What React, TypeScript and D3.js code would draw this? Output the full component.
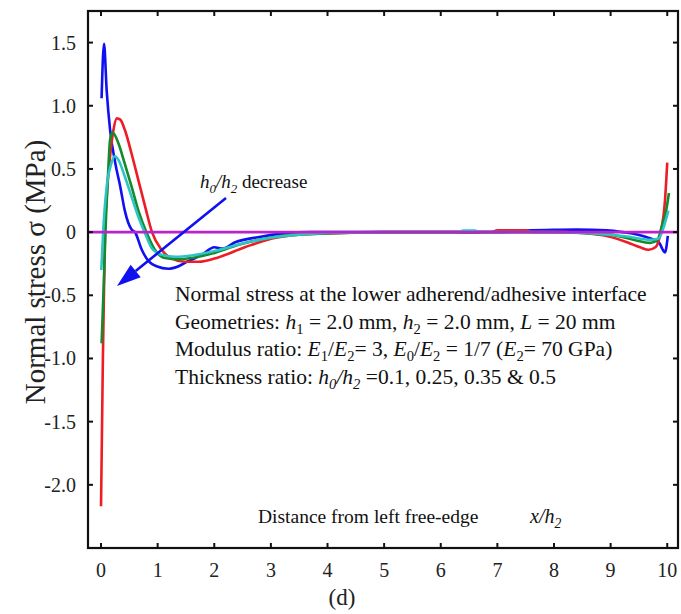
import React from "react";
import * as d3 from "d3";

const xTicks = [0, 1, 2, 3, 4, 5, 6, 7, 8, 9, 10];
const yTicks = [-2.0, -1.5, -1.0, -0.5, 0, 0.5, 1.0, 1.5];
const yTickLabels = ["-2.0", "-1.5", "-1.0", "-0.5", "0", "0.5", "1.0", "1.5"];

// h0/h2 = 0.5 (blue)
const blueX = [0.01, 0.053, 0.1, 0.16, 0.25, 0.34, 0.42, 0.54, 0.6, 0.72, 0.84, 0.98, 1.19, 1.37, 1.54, 1.78, 2.0, 2.15, 2.37, 2.77, 3.25, 3.7, 4.1, 5, 6, 7, 7.5, 8.0, 8.4, 8.93, 9.22, 9.64, 9.85, 9.96, 10.01];
const blueY = [1.06, 1.49, 1.12, 0.81, 0.55, 0.36, 0.17, 0.02, 0, -0.14, -0.23, -0.27, -0.29, -0.27, -0.23, -0.18, -0.12, -0.13, -0.08, -0.04, -0.01, 0, 0, 0, 0, 0, 0.012, 0.018, 0.02, 0.015, 0.0, -0.04, -0.08, -0.16, -0.03];

// h0/h2 = 0.1 (red)
const redX = [0.0, 0.03, 0.07, 0.1, 0.16, 0.22, 0.28, 0.34, 0.42, 0.54, 0.66, 0.78, 0.9, 1.07, 1.25, 1.48, 1.72, 2.07, 2.54, 3.02, 3.5, 4.0, 5, 6, 6.9, 7.0, 7.5, 7.6, 8.2, 8.87, 9.29, 9.52, 9.67, 9.79, 9.88, 9.96, 10.0];
const redY = [-2.17, -1.1, 0.02, 0.28, 0.6, 0.81, 0.9, 0.89, 0.81, 0.62, 0.41, 0.2, 0.0, -0.14, -0.21, -0.235, -0.235, -0.2, -0.12, -0.05, -0.02, -0.01, 0, 0, 0.0, 0.015, 0.015, 0.0, 0, -0.025, -0.08, -0.12, -0.14, -0.12, -0.01, 0.25, 0.55];

// h0/h2 = 0.25 (green)
const greenX = [0.01, 0.05, 0.08, 0.12, 0.16, 0.2, 0.31, 0.42, 0.54, 0.66, 0.8, 0.95, 1.13, 1.37, 1.6, 1.96, 2.43, 2.9, 3.4, 4.0, 5, 6, 7, 8, 8.99, 9.4, 9.7, 9.83, 9.9, 9.98, 10.03];
const greenY = [-0.88, -0.4, 0.02, 0.42, 0.73, 0.79, 0.7, 0.54, 0.36, 0.17, 0.0, -0.14, -0.205, -0.215, -0.205, -0.17, -0.1, -0.05, -0.02, -0.01, 0, 0, 0, 0, -0.02, -0.06, -0.085, -0.06, 0.04, 0.17, 0.31];

// h0/h2 = 0.35 (cyan)
const cyanX = [0.005, 0.04, 0.1, 0.18, 0.24, 0.31, 0.42, 0.54, 0.66, 0.77, 0.9, 1.07, 1.31, 1.6, 2.0, 2.5, 3.0, 3.5, 4.1, 5, 6, 6.3, 6.4, 6.6, 6.7, 8, 9.29, 9.7, 9.85, 9.93, 10.02];
const cyanY = [-0.3, 0.02, 0.36, 0.54, 0.6, 0.57, 0.44, 0.28, 0.12, 0.0, -0.13, -0.18, -0.195, -0.185, -0.15, -0.09, -0.045, -0.02, -0.005, 0, 0, 0, 0.012, 0.012, 0, 0, -0.035, -0.06, -0.05, 0.03, 0.17];

const series = [
  { name: "0.5", xs: blueX, ys: blueY, color: "#1010f0" },
  { name: "0.1", xs: redX, ys: redY, color: "#ee1c24" },
  { name: "0.25", xs: greenX, ys: greenY, color: "#148a2c" },
  { name: "0.35", xs: cyanX, ys: cyanY, color: "#2cc4c4" },
];

const FONT = "'Liberation Serif', 'Times New Roman', serif";

type Seg = { t: string; i?: boolean; sub?: boolean };

function Rich({ x, y, segs, size }: { x: number; y: number; segs: Seg[]; size: number }) {
  const out: React.ReactNode[] = [];
  let shifted = false;
  segs.forEach((s, k) => {
    let dy = 0;
    if (s.sub && !shifted) { dy = size * 0.25; shifted = true; }
    else if (!s.sub && shifted) { dy = -size * 0.25; shifted = false; }
    out.push(
      <tspan key={k} dy={dy || undefined} fontStyle={s.i ? "italic" : "normal"} fontSize={s.sub ? size * 0.68 : size}>
        {s.t}
      </tspan>
    );
  });
  return (
    <text x={x} y={y} fontFamily={FONT} fontSize={size} fill="#111" style={{ whiteSpace: "pre" }}>
      {out}
    </text>
  );
}

export default function App() {
  const W = 681, H = 614;
  const left = 88, right = 678, top = 11, bottom = 548;
  const x = d3.scaleLinear().domain([-0.23, 10.19]).range([left, right]);
  const y = d3.scaleLinear().domain([-2.5, 1.75]).range([bottom, top]);

  const line = d3
    .line<[number, number]>()
    .x((d) => x(d[0]))
    .y((d) => y(d[1]))
    .curve(d3.curveMonotoneX);

  const zeroLine = x.domain();
  const tl = 5;

  // arrow
  const ax1 = 226, ay1 = 198, ax2 = 117, ay2 = 286;
  const ang = Math.atan2(ay2 - ay1, ax2 - ax1);
  const hl = 24, hw = 8;
  const bx = ax2 - hl * Math.cos(ang), by = ay2 - hl * Math.sin(ang);
  const p1 = [bx + hw * Math.sin(ang), by - hw * Math.cos(ang)];
  const p2 = [bx - hw * Math.sin(ang), by + hw * Math.cos(ang)];

  const tsize = 21.5;
  const lsize = 20;

  return (
    <svg width={W} height={H} style={{ position: "absolute", left: 0, top: 0, background: "#fff" }}>
      <rect x={0} y={0} width={W} height={H} fill="#fff" />
      {series.map((s) => (
        <path
          key={s.name}
          d={line(s.xs.map((v, i) => [v, s.ys[i]] as [number, number])) || ""}
          fill="none"
          stroke={s.color}
          strokeWidth={2.6}
          strokeLinejoin="round"
        />
      ))}
      <line x1={x(zeroLine[0])} x2={x(zeroLine[1])} y1={y(0)} y2={y(0)} stroke="#bb22cc" strokeWidth={2.6} />

      {/* arrow */}
      <line x1={ax1} y1={ay1} x2={bx} y2={by} stroke="#1010f0" strokeWidth={2.6} />
      <polygon points={`${ax2},${ay2} ${p1[0]},${p1[1]} ${p2[0]},${p2[1]}`} fill="#1010f0" />

      {/* frame */}
      <rect x={left} y={top} width={right - left} height={bottom - top} fill="none" stroke="#111" strokeWidth={2.2} />
      {xTicks.map((t) => (
        <g key={"xt" + t}>
          <line x1={x(t)} x2={x(t)} y1={bottom} y2={bottom - tl} stroke="#111" strokeWidth={2} />
          <line x1={x(t)} x2={x(t)} y1={top} y2={top + tl} stroke="#111" strokeWidth={2} />
          <text x={x(t)} y={577} textAnchor="middle" fontFamily={FONT} fontSize={lsize} fill="#222">
            {t}
          </text>
        </g>
      ))}
      {yTicks.map((t, i) => (
        <g key={"yt" + t}>
          <line x1={left} x2={left + tl} y1={y(t)} y2={y(t)} stroke="#111" strokeWidth={2} />
          <line x1={right} x2={right - tl} y1={y(t)} y2={y(t)} stroke="#111" strokeWidth={2} />
          <text x={76} y={y(t) + 7} textAnchor="end" fontFamily={FONT} fontSize={lsize} fill="#222">
            {yTickLabels[i]}
          </text>
        </g>
      ))}

      <text
        transform={`translate(45,272) rotate(-90)`}
        textAnchor="middle"
        fontFamily={FONT}
        fontSize={29}
        fill="#222"
      >
        Normal stress σ (MPa)
      </text>

      <Rich x={200} y={188} size={19} segs={[{ t: "h", i: true }, { t: "0", i: true, sub: true }, { t: "/" , i: true}, { t: "h", i: true }, { t: "2", i: true, sub: true }, { t: " decrease" }]} />

      <Rich x={175} y={301} size={tsize} segs={[{ t: "Normal stress at the lower adherend/adhesive interface" }]} />
      <Rich
        x={175}
        y={329}
        size={tsize}
        segs={[
          { t: "Geometries: " },
          { t: "h", i: true },
          { t: "1", sub: true },
          { t: " = 2.0 mm, " },
          { t: "h", i: true },
          { t: "2", sub: true },
          { t: " = 2.0 mm, " },
          { t: "L", i: true },
          { t: " = 20 mm" },
        ]}
      />
      <Rich
        x={175}
        y={356}
        size={tsize}
        segs={[
          { t: "Modulus ratio: " },
          { t: "E", i: true },
          { t: "1", sub: true },
          { t: "/" },
          { t: "E", i: true },
          { t: "2", sub: true },
          { t: "= 3, " },
          { t: "E", i: true },
          { t: "0", sub: true },
          { t: "/" },
          { t: "E", i: true },
          { t: "2", sub: true },
          { t: " = 1/7 (" },
          { t: "E", i: true },
          { t: "2", sub: true },
          { t: "= 70 GPa)" },
        ]}
      />
      <Rich
        x={175}
        y={384}
        size={tsize}
        segs={[
          { t: "Thickness ratio: " },
          { t: "h", i: true },
          { t: "0", i: true, sub: true },
          { t: "/", i: true },
          { t: "h", i: true },
          { t: "2", i: true, sub: true },
          { t: " =0.1, 0.25, 0.35 & 0.5" },
        ]}
      />

      <Rich x={258} y={523} size={19.5} segs={[{ t: "Distance from left free-edge" }]} />
      <Rich x={530} y={523} size={20} segs={[{ t: "x", i: true }, { t: "/", i: true }, { t: "h", i: true }, { t: "2", i: true, sub: true }]} />

      <text x={342} y={605} textAnchor="middle" fontFamily={FONT} fontSize={23} fill="#222">
        (d)
      </text>
    </svg>
  );
}
